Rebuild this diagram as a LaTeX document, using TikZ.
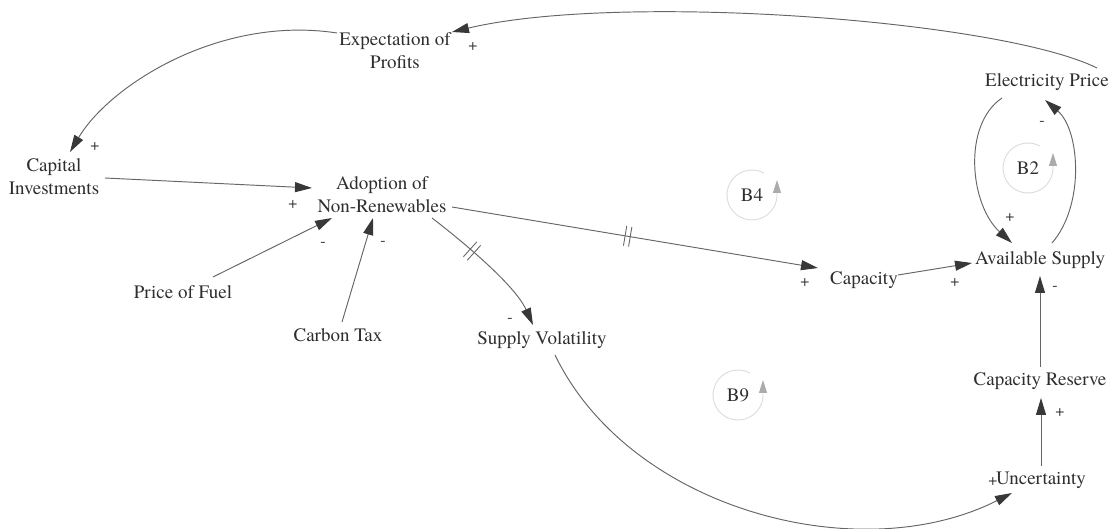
\documentclass[tikz,border=0pt]{standalone}
\usepackage{fontspec}
\setmainfont{texgyretermes-regular.otf}
\usetikzlibrary{arrows.meta,calc,decorations.markings}
\begin{document}
\begin{tikzpicture}[x=1pt,y=-1pt,
  var/.style={font=\fontsize{19}{23}\selectfont, text=black!82, align=center, inner sep=0pt},
  sign/.style={font=\fontsize{16}{18}\selectfont, text=black!80, inner sep=0pt},
  link/.style={draw=black!60, line width=0.95pt, -{Triangle[length=17pt,width=10pt,color=black!78]}},
  delaymark/.style={postaction={decorate,decoration={markings,
      mark=at position #1 with {\draw[draw=black!60,line width=0.9pt,-] (-2.6,-10)--(-2.6,10) (2.6,-10)--(2.6,10);}}}},
  looplbl/.style={font=\fontsize{19}{23}\selectfont, text=black!82, inner sep=0pt},
  loopc/.style={draw=black!14, line width=0.9pt, -{Triangle[length=13pt,width=8pt,color=black!33]}}
]
\useasboundingbox (0,0) rectangle (1112,529);

% variables
\node[var] (exp)    at (395,51)  {Expectation of\\Profits};
\node[var] (elec)   at (1047,82) {Electricity Price};
\node[var] (capinv) at (54,177)  {Capital\\Investments};
\node[var] (adopt)  at (382,195) {Adoption of\\Non-Renewables};
\node[var] (fuel)   at (183,292) {Price of Fuel};
\node[var] (ctax)   at (338,335) {Carbon Tax};
\node[var] (svol)   at (542,340) {Supply Volatility};
\node[var] (capac)  at (864,280) {Capacity};
\node[var] (avail)  at (1040,260) {Available Supply};
\node[var] (cres)   at (1040,381) {Capacity Reserve};
\node[var] (unc)    at (1041,480) {Uncertainty};

% causal links
\draw[link] ($(elec)+(50,-14)$) .. controls (1000,20) and (620,-8) .. ($(exp)+(57,-19)$);
\draw[link] ($(exp)+(-58,-18)$) .. controls (220,15) and (110,85) .. ($(capinv)+(16,-25)$);
\draw[link] ($(capinv)+(51,1)$) -- ($(adopt)+(-70,-7)$);
\draw[link] ($(fuel)+(30,-15)$) -- ($(adopt)+(-50,23)$);
\draw[link] ($(ctax)+(4,-13)$) -- ($(adopt)+(-9,23)$);
\draw[link,delaymark=0.48] ($(adopt)+(70,12)$) -- ($(capac)+(-46,-12)$);
\draw[link,delaymark=0.35] ($(adopt)+(50,23)$) .. controls (462,241) and (515,285) .. ($(svol)+(-9,-15)$);
\draw[link] ($(capac)+(34,-5)$) -- ($(avail)+(-68,3)$);
\draw[link] ($(elec)+(-45,16)$) .. controls (962,125) and (970,205) .. ($(avail)+(-28,-17)$);
\draw[link] ($(avail)+(12,-17)$) .. controls (1085,205) and (1080,130) .. ($(elec)+(-2,18)$);
\draw[link] ($(cres)+(0,-14)$) -- ($(avail)+(0,16)$);
\draw[link] ($(unc)+(0,-14)$) -- ($(cres)+(1,17)$);
\draw[link] ($(svol)+(13,15)$) .. controls (630,510) and (860,570) .. ($(unc)+(-29,13)$);

% polarities
\node[sign] (s1)  at (473,47)   {+};
\node[sign] (s2)  at (95,147)   {+};
\node[sign] (s3)  at (293,205)  {+};
\node[sign] (s4)  at (323,244)  {-};
\node[sign] (s5)  at (383,243)  {-};
\node[sign] (s6)  at (805,283)  {+};
\node[sign] (s7)  at (510,320)  {-};
\node[sign] (s8)  at (955,283)  {+};
\node[sign] (s9)  at (1010,218) {+};
\node[sign] (s10) at (1042,123) {-};
\node[sign] (s11) at (1055,288) {-};
\node[sign] (s12) at (1060,413) {+};
\node[sign] (s13) at (993,482)  {+};

% loop markers: open circle ending in an upward arrow on the right
\node[looplbl] (b4) at (752,195) {B4};
\draw[loopc] ($(b4)+(-62:25)$) arc (-62:-360:25) -- ++(0,-15);
\node[looplbl] (b2) at (1028,168) {B2};
\draw[loopc] ($(b2)+(-62:25)$) arc (-62:-360:25) -- ++(0,-15);
\node[looplbl] (b9) at (738,395) {B9};
\draw[loopc] ($(b9)+(-62:25)$) arc (-62:-360:25) -- ++(0,-15);
\end{tikzpicture}
\end{document}
